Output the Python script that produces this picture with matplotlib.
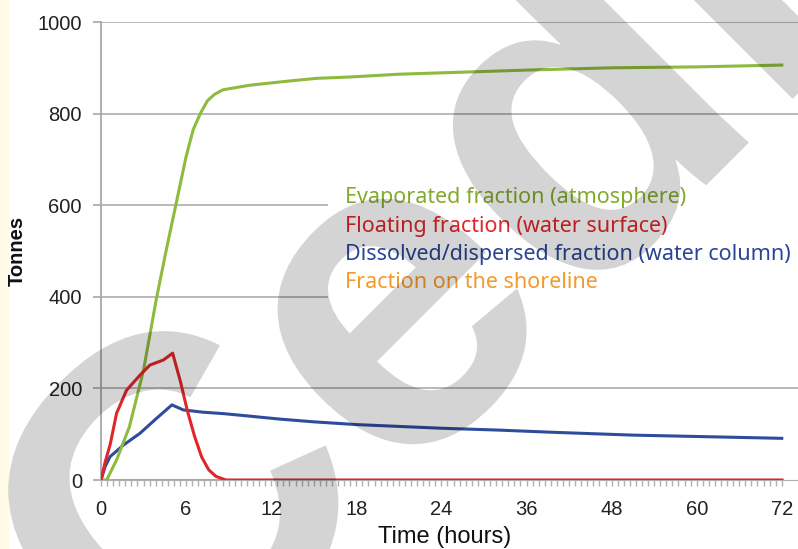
import numpy as np
import matplotlib
matplotlib.use("Agg")
import matplotlib.pyplot as plt
from matplotlib.patches import Rectangle, PathPatch
from matplotlib.textpath import TextPath
from matplotlib.font_manager import FontProperties
from matplotlib.transforms import Affine2D

# ---- data ----
t_evap = [0, 0.4, 1.1, 2.0, 3.0, 3.9, 4.6, 5.3, 6.0, 6.5, 7.0, 7.5, 8.0, 8.6, 10.5, 12.9, 15.2, 17.6, 21, 24, 36, 48, 60, 72]
evap   = [0, 0, 44, 116, 240, 395, 502, 604, 706, 765, 800, 828, 842, 852, 862, 870, 877, 880, 886, 889, 895, 900, 902, 906]

t_float = [0, 0.3, 0.65, 1.1, 1.8, 2.75, 3.45, 4.4, 5.05, 5.6, 6.1, 6.6, 7.1, 7.6, 8.1, 8.8, 72]
floating = [0, 40, 78, 146, 196, 229, 251, 262, 277, 215, 150, 95, 50, 22, 8, 0, 0]

t_diss = [0, 0.3, 0.64, 1.57, 2.75, 3.93, 5.0, 5.8, 7.2, 8.6, 10.3, 12.6, 15, 18, 24, 32, 40, 51, 60, 72]
dissolved = [0, 30, 51, 76, 102, 135, 164, 153, 148, 145, 140, 133, 127, 121, 113, 109, 104, 98, 95, 91]

t_shore = [0, 72]
shore = [0, 0]

x_ticks = [0, 6, 12, 18, 24, 36, 48, 60, 72]
y_ticks = [0, 200, 400, 600, 800, 1000]
labels = ["Evaporated fraction (atmosphere)", "Floating fraction (water surface)",
          "Dissolved/dispersed fraction (water column)", "Fraction on the shoreline"]

c_green, c_red, c_blue, c_orange = "#8dba3f", "#e0262b", "#2f4b9b", "#f39a2b"
t_green, t_red, t_blue, t_orange = "#83a92e", "#e0262b", "#2a4596", "#f39a2b"

# piecewise-linear time axis: 0-24 h in 6 h steps, 24-72 h in 12 h steps (equal spacing)
def fwd(t):
    t = np.asarray(t, dtype=float)
    return np.where(t <= 24, t / 6.0, 4 + (t - 24) / 12.0)

def inv(u):
    u = np.asarray(u, dtype=float)
    return np.where(u <= 4, u * 6.0, 24 + (u - 4) * 12.0)

W, H = 798, 549
fig = plt.figure(figsize=(W / 100, H / 100), dpi=100)
fig.patch.set_facecolor("white")
fig.patches.append(Rectangle((0, 0), 9 / W, 1, transform=fig.transFigure,
                             facecolor="#fffbe8", edgecolor="none", zorder=-1))

ax = fig.add_axes([101 / W, (H - 480) / H, (798 - 101) / W, (480 - 22) / H])
ax.set_xscale("function", functions=(fwd, inv))
ax.set_xlim(0, float(inv((798 - 101) / 85.1)))
ax.set_ylim(0, 1000)

ax.set_yticks(y_ticks)
ax.set_xticks(x_ticks)
ax.set_xticklabels([str(v) for v in x_ticks])
minor = []
for a, b, step in [(0, 24, 6 / 14), (24, 72, 12 / 14)]:
    minor += list(np.arange(a, b, step))
minor.append(72)
ax.set_xticks(minor, minor=True)

for lab in ax.get_xticklabels() + ax.get_yticklabels():
    lab.set_fontfamily("Liberation Sans")
    lab.set_fontsize(14.5)
    lab.set_color("#222222")
ax.tick_params(axis="y", length=5.8, width=1.2, color="#a8a8a8", pad=7.9)
ax.tick_params(axis="x", which="both", length=4.3, width=1, color="#b0b0b0", pad=10, direction="out")

for yv in y_ticks[1:]:
    ax.axhline(yv, color="#b3b3b3", linewidth=1.3, zorder=0.3)
for s in ["top", "right"]:
    ax.spines[s].set_visible(False)
ax.spines["left"].set_color("#a8a8a8")
ax.spines["left"].set_linewidth(1.3)
ax.spines["bottom"].set_color("#b0b0b0")

fig.text(17 / W, (H - 251) / H, "Tonnes", rotation=90, ha="center", va="center",
         fontfamily="Liberation Sans", fontweight="bold", fontsize=14.5, color="#111111")
fig.text(445 / W, (H - 537) / H, "Time (hours)", ha="center", va="center",
         fontfamily="Liberation Sans", fontsize=17, color="#111111")

# legend box (white) covering the gridlines
ax.add_patch(Rectangle((328 / W, (H - 305) / H), 1, 135 / H, transform=fig.transFigure,
                       facecolor="white", edgecolor="none", zorder=0.6, clip_on=False))

ax.plot(t_shore, shore, color=c_orange, lw=2.2, zorder=2)
ax.plot(t_diss, dissolved, color=c_blue, lw=2.2, zorder=3)
ax.plot(t_evap, evap, color=c_green, lw=2.2, zorder=3)
ax.plot(t_float, floating, color=c_red, lw=2.2, zorder=4)

ys = [203, 232, 260, 288]
for lab, col, y in zip(labels, [t_green, t_red, t_blue, t_orange], ys):
    fig.text(345 / W, (H - y) / H, lab, color=col, fontsize=15.5, fontfamily="Noto Sans",
             ha="left", va="baseline", zorder=5)

# watermark (semi-transparent overlay on top)
fp = FontProperties(family="Liberation Sans", weight="bold")
size = 455
word = TextPath((0, 0), "Cedre", size=size, prop=fp)
ext = TextPath((0, 0), "C", size=size, prop=fp).get_extents()
cx, cy = ext.x0 + ext.width / 2, ext.y0 + ext.height / 2
tr = Affine2D().translate(-cx, -cy).rotate_deg(45).translate(170, H - 500)
wm = PathPatch(word, transform=tr, facecolor="black", edgecolor="none", alpha=0.17, zorder=10)
wm.set_clip_on(False)
fig.patches.append(wm)

fig.savefig("out.png", dpi=100)
